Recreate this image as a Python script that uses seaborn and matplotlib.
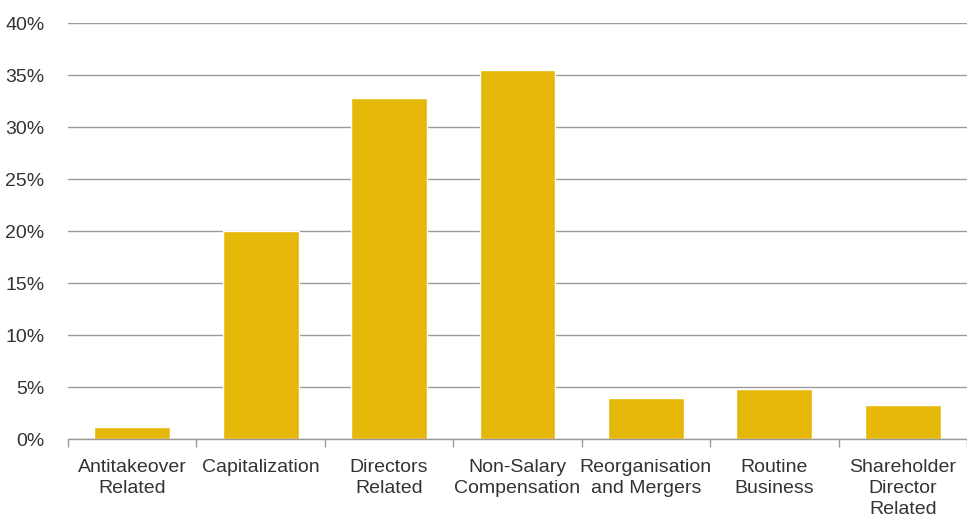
import matplotlib
matplotlib.use("Agg")
import matplotlib.pyplot as plt
import seaborn as sns
import pandas as pd
import numpy as np
from matplotlib.ticker import FuncFormatter, FixedLocator

categories = ["Antitakeover\nRelated", "Capitalization", "Directors\nRelated",
              "Non-Salary\nCompensation", "Reorganisation\nand Mergers",
              "Routine\nBusiness", "Shareholder\nDirector\nRelated"]
values = [1.15, 20.0, 32.8, 35.5, 3.9, 4.8, 3.3]
yticks = [0, 5, 10, 15, 20, 25, 30, 35, 40]

df = pd.DataFrame({"category": categories, "value": values})

sns.set_theme(style="white")
plt.rcParams['font.family'] = ['Liberation Sans', 'DejaVu Sans']

fig = plt.figure(figsize=(9.67, 5.16), dpi=100)
ax = fig.add_axes([68/967, 1 - 439/516, (967 - 68)/967, (439 - 23)/516])

sns.barplot(data=df, x="category", y="value", color="#E6B80A", width=0.59,
            saturation=1, ax=ax, zorder=3)

ax.set_ylim(0, 40)
ax.set_xlim(-0.5, len(categories) - 0.5)
ax.yaxis.set_major_locator(FixedLocator(yticks))
ax.yaxis.set_major_formatter(FuncFormatter(lambda v, p: f"{int(v)}%"))
ax.grid(axis="y", color="#9a9a9a", linewidth=1.0, zorder=0)
ax.set_axisbelow(True)

for s in ["top", "right", "left"]:
    ax.spines[s].set_visible(False)
ax.spines["bottom"].set_color("#9a9a9a")
ax.spines["bottom"].set_linewidth(1.0)
ax.spines["bottom"].set_zorder(4)

ax.set_xlabel("")
ax.set_ylabel("")
ax.tick_params(axis="x", which="major", length=0, pad=14.5, labelsize=14,
               labelcolor="#333333")
ax.tick_params(axis="y", which="major", length=0, pad=17, labelsize=14,
               labelcolor="#333333")
ax.set_xticks(np.arange(-0.5, len(categories) + 0.5, 1.0), minor=True)
ax.tick_params(axis="x", which="minor", length=6, width=1, color="#9a9a9a",
               bottom=True, direction="out")
for lbl in ax.get_xticklabels():
    lbl.set_linespacing(1.3)

fig.savefig("out.png", dpi=100, facecolor="white")
